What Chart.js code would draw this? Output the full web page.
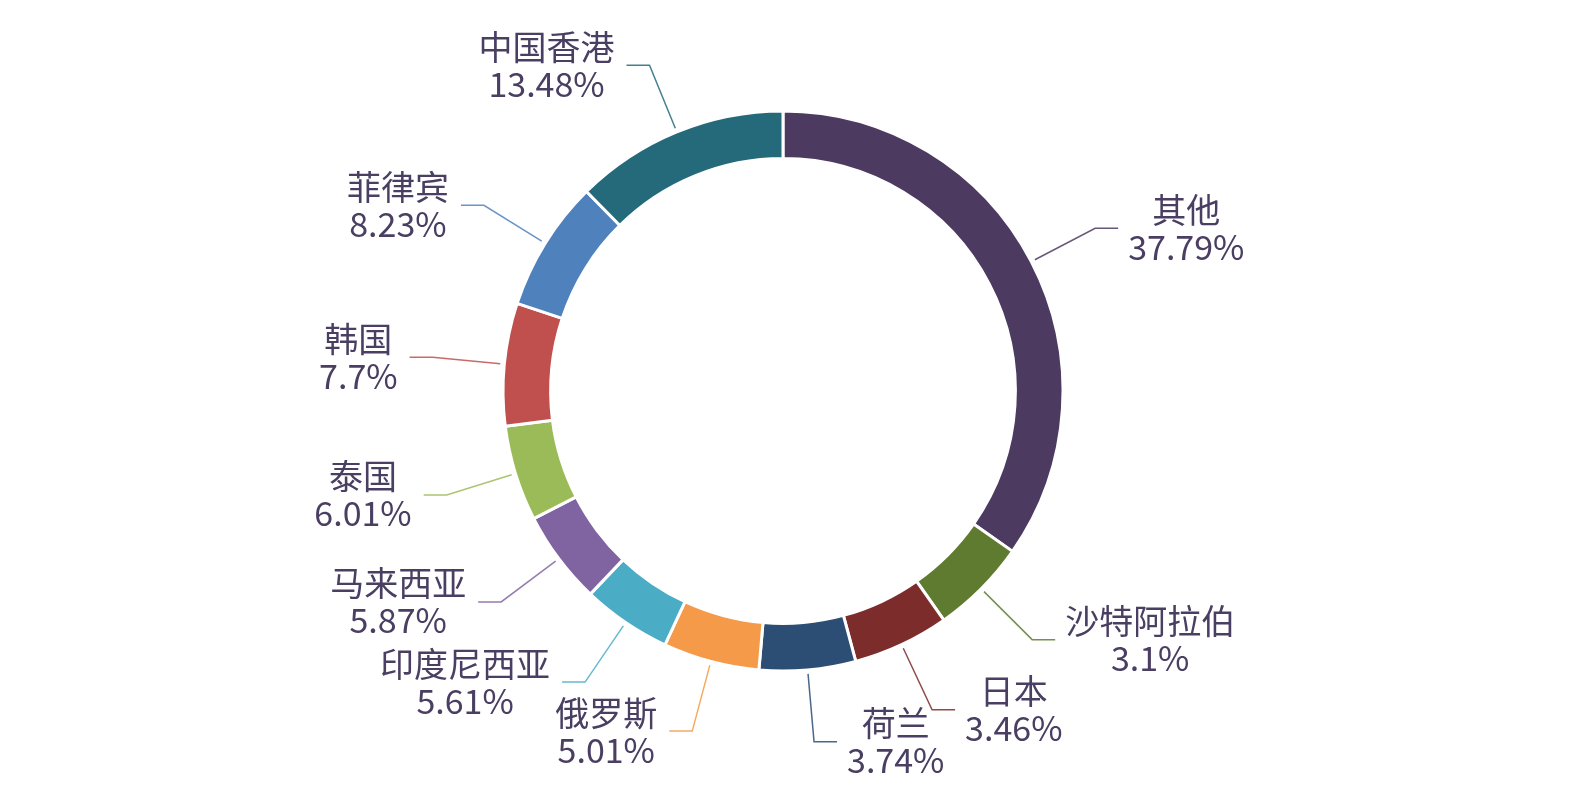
<!DOCTYPE html>
<html>
<head>
<meta charset="utf-8">
<title>出口市场占比</title>
<script src="https://cdn.jsdelivr.net/npm/chart.js@4.4.1/dist/chart.umd.min.js"></script>
<style>
    html, body { margin: 0; padding: 0; background: #fff; }
    #wrap { width: 1570px; height: 787px; }
</style>
</head>
<body>
<div id="wrap"><canvas id="shareChart"></canvas></div>
<script>
// market shares (%), clockwise from 12 o'clock
const regions = ['其他', '沙特阿拉伯', '日本', '荷兰', '俄罗斯', '印度尼西亚', '马来西亚', '泰国', '韩国', '菲律宾', '中国香港'];
const shares = [37.79, 3.1, 3.46, 3.74, 5.01, 5.61, 5.87, 6.01, 7.7, 8.23, 13.48];
const colors = ['#4c3a60', '#5f7b30', '#7b2c2b', '#2c4e74', '#f59a48', '#4bacc6', '#8064a2', '#9bbb59', '#c0504d', '#4f81bd', '#256a7b'];
const textColor = '#4a3e62';

// the original chart gives every slice at least 20 degrees,
// the rest of the circle is shared out by value
const minAngle = 20;
function sliceAngles(values, minDeg) {
    const total = values.reduce((a, b) => a + b, 0);
    let rest = 360, bigSum = 0;
    const small = values.map(v => {
        if (v / total * 360 < minDeg) { rest -= minDeg; return true; }
        bigSum += v;
        return false;
    });
    return values.map((v, i) => small[i] ? minDeg : v * rest / bigSum);
}

const leaderLabels = {
    id: 'leaderLabels',
    afterDatasetsDraw(chart) {
        const ctx = chart.ctx;
        const meta = chart.getDatasetMeta(0);
        ctx.save();
        ctx.font = '34px "Noto Sans CJK SC", sans-serif';
        meta.data.forEach((arc, i) => {
            const p = arc.getProps(['x', 'y', 'startAngle', 'endAngle', 'outerRadius'], true);
            const mid = (p.startAngle + p.endAngle) / 2;
            const cos = Math.cos(mid), sin = Math.sin(mid);
            const x0 = p.x + cos * (p.outerRadius + 4), y0 = p.y + sin * (p.outerRadius + 4);
            const x1 = p.x + cos * (p.outerRadius + 72), y1 = p.y + sin * (p.outerRadius + 72);
            const right = cos >= 0;
            const x2 = x1 + (right ? 23 : -23);

            ctx.globalAlpha = 0.85;
            ctx.strokeStyle = colors[i];
            ctx.lineWidth = 1.5;
            ctx.beginPath();
            ctx.moveTo(x0, y0);
            ctx.lineTo(x1, y1);
            ctx.lineTo(x2, y1);
            ctx.stroke();
            ctx.globalAlpha = 1;

            const lines = [regions[i], shares[i] + '%'];
            const w = Math.max(...lines.map(t => ctx.measureText(t).width));
            const cx = right ? x2 + 10 + w / 2 : x2 - 12 - w / 2;
            ctx.fillStyle = textColor;
            ctx.textAlign = 'center';
            ctx.textBaseline = 'middle';
            ctx.fillText(lines[0], cx, y1 - 18.5);
            ctx.fillText(lines[1], cx, y1 + 18.5);
        });
        ctx.restore();
    }
};

new Chart(document.getElementById('shareChart'), {
    type: 'doughnut',
    data: {
        labels: regions,
        datasets: [{
            data: sliceAngles(shares, minAngle),
            backgroundColor: colors,
            borderColor: '#fff',
            borderWidth: 3,
            hoverOffset: 0
        }]
    },
    options: {
        responsive: true,
        maintainAspectRatio: false,
        animation: false,
        radius: 280,
        cutout: '83%',
        layout: { padding: { top: 0, bottom: 5, left: 0, right: 4 } },
        plugins: {
            legend: { display: false },
            tooltip: {
                callbacks: { label: c => regions[c.dataIndex] + ': ' + shares[c.dataIndex] + '%' }
            }
        }
    },
    plugins: [leaderLabels]
});
</script>
</body>
</html>
